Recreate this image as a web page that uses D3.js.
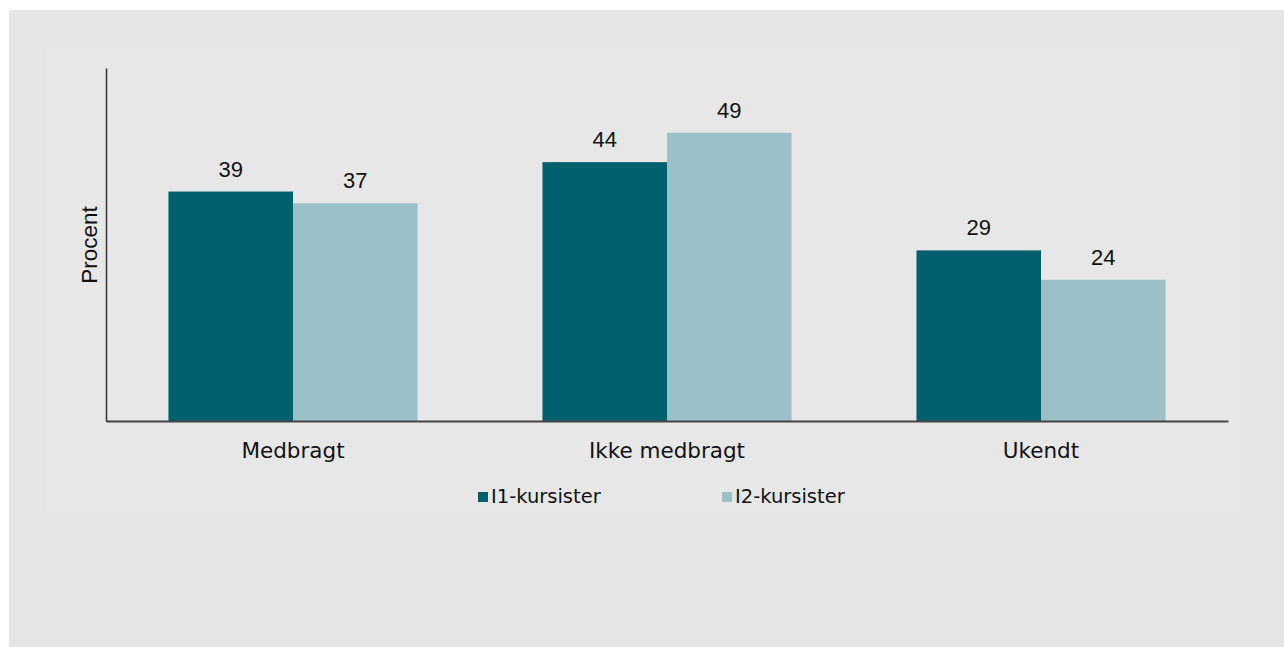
<!DOCTYPE html>
<html>
<head>
<meta charset="utf-8">
<script src="https://cdn.jsdelivr.net/npm/d3@7"></script>
<style>
  html, body { margin: 0; padding: 0; background: #ffffff; }
</style>
</head>
<body>
<div id="chart"></div>
<script>
// data
const categories = ["Medbragt", "Ikke medbragt", "Ukendt"];
const seriesNames = ["I1-kursister", "I2-kursister"];
const i1Values = [39, 44, 29];
const i2Values = [37, 49, 24];
const seriesColors = ["#01606e", "#9bc0c7"];

const W = 1284, H = 647;
const svg = d3.select("#chart")
    .append("svg")
    .attr("width", W)
    .attr("height", H);

// backgrounds
svg.append("rect")
    .attr("x", 9).attr("y", 10)
    .attr("width", W - 9).attr("height", H - 10)
    .attr("fill", "#e5e5e5");
svg.append("rect")
    .attr("x", 47).attr("y", 43)
    .attr("width", 1193).attr("height", 470)
    .attr("fill", "#e7e7e7");

const data = categories.map((c, i) => ({ cat: c, values: [i1Values[i], i2Values[i]] }));

// scales
const x0 = d3.scaleBand()
    .domain(categories)
    .range([106, 1228])
    .paddingInner(0.334)
    .paddingOuter(0.167);

const x1 = d3.scaleBand()
    .domain(seriesNames)
    .range([0, x0.bandwidth()]);

const y = d3.scaleLinear()
    .domain([0, 60])
    .range([421, 68]);

// bars
const groups = svg.selectAll("g.grp")
    .data(data)
    .join("g")
    .attr("class", "grp")
    .attr("transform", d => `translate(${x0(d.cat)},0)`);

groups.selectAll("rect")
    .data(d => d.values.map((v, i) => ({ key: seriesNames[i], v: v, i: i })))
    .join("rect")
    .attr("x", d => x1(d.key))
    .attr("y", d => y(d.v))
    .attr("width", x1.bandwidth())
    .attr("height", d => y(0) - y(d.v))
    .attr("fill", d => seriesColors[d.i]);

// value labels
groups.selectAll("text.val")
    .data(d => d.values.map((v, i) => ({ key: seriesNames[i], v: v })))
    .join("text")
    .attr("class", "val")
    .attr("x", d => x1(d.key) + x1.bandwidth() / 2)
    .attr("y", d => y(d.v) - 15)
    .attr("text-anchor", "middle")
    .style("font-family", "'Liberation Sans', Arial, sans-serif")
    .style("font-size", "22px")
    .style("fill", "#111")
    .text(d => d.v);

// axes
const xAxis = svg.append("g")
    .attr("transform", `translate(0,${y(0)})`)
    .call(d3.axisBottom(x0).tickSize(0).tickPadding(0).tickSizeOuter(0));
xAxis.select(".domain")
    .attr("stroke", "#444")
    .attr("stroke-width", 2);
xAxis.selectAll(".tick text")
    .attr("dy", null)
    .attr("y", 37)
    .style("font-family", "'DejaVu Sans', Verdana, sans-serif")
    .style("font-size", "21.5px")
    .style("fill", "#111");

const yAxis = svg.append("g")
    .attr("transform", "translate(106,0)")
    .call(d3.axisLeft(y).ticks(0).tickSize(0).tickSizeOuter(0));
yAxis.select(".domain")
    .attr("stroke", "#333")
    .attr("stroke-width", 1.5);

// y label
svg.append("text")
    .attr("transform", "translate(97,245) rotate(-90)")
    .attr("text-anchor", "middle")
    .style("font-family", "'Liberation Sans', Arial, sans-serif")
    .style("font-size", "22.5px")
    .style("fill", "#111")
    .text("Procent");

// legend
const legendX = [478, 722];
const legend = svg.selectAll("g.leg")
    .data(seriesNames)
    .join("g")
    .attr("class", "leg")
    .attr("transform", (d, i) => `translate(${legendX[i]},492)`);
legend.append("rect")
    .attr("width", 10).attr("height", 10)
    .attr("fill", (d, i) => seriesColors[i]);
legend.append("text")
    .attr("x", 13)
    .attr("y", 11)
    .style("font-family", "'DejaVu Sans', Verdana, sans-serif")
    .style("font-size", "19.5px")
    .style("fill", "#111")
    .text(d => d);
</script>
</body>
</html>
